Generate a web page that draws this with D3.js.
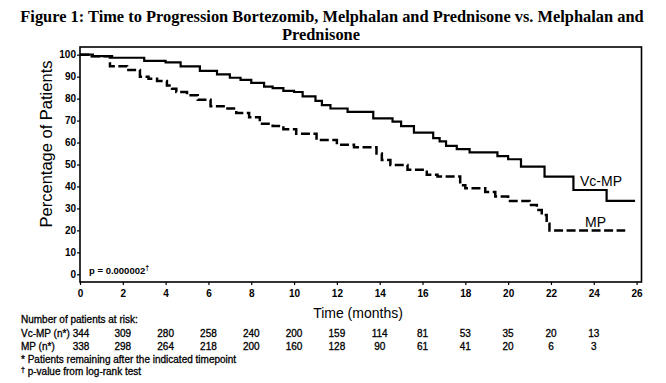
<!DOCTYPE html>
<html>
<head>
<meta charset="utf-8">
<style>
  body { margin: 0; background: #fff; }
  text { font-family: "Liberation Sans", Arial, sans-serif; fill: #000; }
  .title { font-family: "Liberation Serif", "Times New Roman", serif; font-weight: bold; font-size: 16.4px; }
  .tbl { font-size: 10px; stroke: #000; stroke-width: 0.3px; }
</style>
</head>
<body>
<svg width="666" height="383"></svg>
<script src="https://d3js.org/d3.v7.min.js"></script>
<script>

// Kaplan-Meier step points (months, % of patients)
var vcTimes  = [0, 0.6, 1.5, 3.0, 4.0, 4.7, 5.6, 6.4, 7.0, 7.5, 8.0, 8.6, 9.0, 9.5, 10.0, 10.4, 11.0, 11.3, 11.7, 12.5, 13.7, 14.6, 15.0, 15.6, 16.5, 16.8, 17.1, 17.6, 18.2, 19.5, 20.0, 20.6, 21.7, 23.05, 24.6, 25.93];
var vcValues = [100, 99.3, 98.6, 97.2, 96.5, 94.7, 92.6, 91, 89.5, 88.5, 87.2, 85.5, 84.8, 83.5, 83, 81, 79, 77, 75.5, 74, 71, 69.5, 67.5, 64.5, 62, 60.5, 58.5, 57, 55.5, 53.8, 52.4, 49, 44.5, 38.4, 33.4, 33.4];

var mpTimes  = [0, 0.55, 1.4, 2.2, 2.8, 3.2, 3.6, 4.06, 4.3, 4.5, 5.0, 5.5, 6.1, 6.8, 7.3, 7.9, 8.4, 9.0, 9.5, 10.1, 11.05, 12.0, 12.8, 13.85, 14.1, 14.5, 15.3, 16.2, 16.7, 17.76, 18.0, 18.93, 19.4, 20.0, 21.0, 21.34, 21.57, 21.8, 21.93, 25.47];
var mpValues = [100, 99.3, 94.7, 93, 90, 89, 88, 86, 84.5, 83, 81.5, 79.5, 76.5, 75.5, 73.5, 71.5, 68.5, 67.5, 66, 64, 61.2, 59, 57.9, 55, 52, 49.8, 47.6, 45.3, 44.5, 40.5, 39.2, 37.5, 35.4, 33.4, 31.6, 29.3, 27, 23, 19.9, 19.9];

var xTicks = [0, 2, 4, 6, 8, 10, 12, 14, 16, 18, 20, 22, 24, 26];
var yTicks = [0, 10, 20, 30, 40, 50, 60, 70, 80, 90, 100];

var riskMonths = [0, 2, 4, 6, 8, 10, 12, 14, 16, 18, 20, 22, 24];
var vcRisk = [344, 309, 280, 258, 240, 200, 159, 114, 81, 53, 35, 20, 13];
var mpRisk = [338, 298, 264, 218, 200, 160, 128, 90, 61, 41, 20, 6, 3];

var svg = d3.select("svg");

var x = d3.scaleLinear().domain([0, 26.23]).range([80, 641.5]);
var y = d3.scaleLinear().domain([-3.5, 103.5]).range([282, 47]);

// title
svg.append("text").attr("class", "title")
    .attr("x", 332).attr("y", 22).attr("text-anchor", "middle")
    .text("Figure 1: Time to Progression Bortezomib, Melphalan and Prednisone vs. Melphalan and");
svg.append("text").attr("class", "title")
    .attr("x", 321).attr("y", 40).attr("text-anchor", "middle")
    .text("Prednisone");

// frame
svg.append("rect")
    .attr("x", x(0)).attr("y", y(103.5))
    .attr("width", x(26.23) - x(0)).attr("height", y(-3.5) - y(103.5))
    .attr("fill", "none").attr("stroke", "#000").attr("stroke-width", 1.6);

var xAxis = svg.append("g")
    .attr("transform", "translate(0," + y(-3.5) + ")")
    .call(d3.axisBottom(x).tickValues(xTicks).tickSize(3).tickPadding(5));
var yAxis = svg.append("g")
    .attr("transform", "translate(" + x(0) + ",0)")
    .call(d3.axisLeft(y).tickValues(yTicks).tickSize(3).tickPadding(1));

[xAxis, yAxis].forEach(function(a) {
  a.select(".domain").remove();
  a.selectAll("line").attr("stroke", "#000").attr("stroke-width", 1.2);
  a.selectAll("text").style("font-family", "Liberation Sans, Arial, sans-serif")
    .style("font-size", "10px").style("font-weight", "bold");
});

svg.append("text")
    .attr("transform", "translate(52," + 144 + ") rotate(-90)")
    .attr("text-anchor", "middle")
    .style("font-size", "16.5px")
    .text("Percentage of Patients");

svg.append("text")
    .attr("x", 358).attr("y", 318).attr("text-anchor", "middle")
    .style("font-size", "14px")
    .text("Time (months)");

// curves
var line = d3.line()
    .x(function(d) { return x(d[0]); })
    .y(function(d) { return y(d[1]); })
    .curve(d3.curveStepAfter);

svg.append("path")
    .datum(d3.zip(vcTimes, vcValues))
    .attr("fill", "none").attr("stroke", "#000").attr("stroke-width", 2.2)
    .attr("d", line);

svg.append("path")
    .datum(d3.zip(mpTimes, mpValues))
    .attr("fill", "none").attr("stroke", "#000").attr("stroke-width", 2.5)
    .attr("stroke-dasharray", "9,3.5")
    .attr("d", line);

svg.append("text").attr("x", 580).attr("y", 186).style("font-size", "14px").text("Vc-MP");
svg.append("text").attr("x", 585).attr("y", 227).style("font-size", "14px").text("MP");

svg.append("text").attr("x", 89).attr("y", 274)
    .style("font-size", "9.5px").style("font-weight", "bold")
    .html("p = 0.000002<tspan dy='-4' font-size='7px'>†</tspan>");

// risk table
svg.append("text").attr("class", "tbl").attr("x", 21).attr("y", 323).text("Number of patients at risk:");
svg.append("text").attr("class", "tbl").attr("x", 21).attr("y", 337).text("Vc-MP (n*)");
svg.append("text").attr("class", "tbl").attr("x", 21).attr("y", 350).text("MP (n*)");

svg.append("g").selectAll("text").data(d3.zip(riskMonths, vcRisk)).join("text")
    .attr("class", "tbl")
    .attr("x", function(d) { return x(d[0]) + (d[0] === 0 ? 1 : 0); })
    .attr("y", 337).attr("text-anchor", "middle")
    .text(function(d) { return d[1]; });

svg.append("g").selectAll("text").data(d3.zip(riskMonths, mpRisk)).join("text")
    .attr("class", "tbl")
    .attr("x", function(d) { return x(d[0]) + (d[0] === 0 ? 1 : 0); })
    .attr("y", 350).attr("text-anchor", "middle")
    .text(function(d) { return d[1]; });

svg.append("text").attr("class", "tbl").attr("x", 21).attr("y", 363)
    .text("* Patients remaining after the indicated timepoint");
svg.append("text").attr("class", "tbl").attr("x", 21).attr("y", 375)
    .html("<tspan dy='-3' font-size='7px'>†</tspan><tspan dy='3'> p-value from log-rank test</tspan>");

</script>
</body>
</html>
